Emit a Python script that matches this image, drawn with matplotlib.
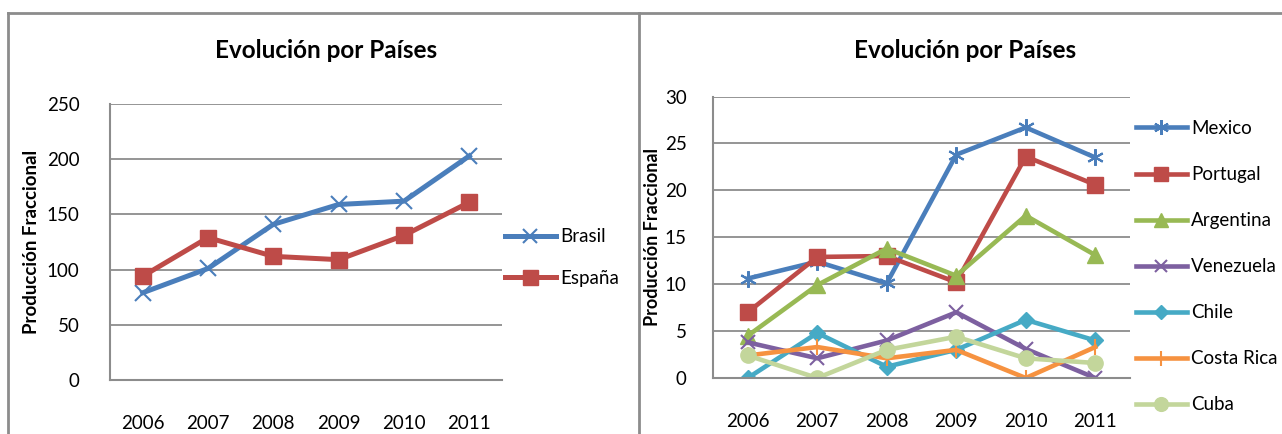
import matplotlib
matplotlib.use("Agg")
import matplotlib.pyplot as plt
from matplotlib.lines import Line2D

plt.rcParams['font.family'] = ['Lato', 'DejaVu Sans']

years = ["2006", "2007", "2008", "2009", "2010", "2011"]

# Left chart
brasil = [79, 101, 141, 159, 162, 203]
espana = [94, 129, 112, 109, 131, 161]

# Right chart
mexico = [10.6, 12.4, 10.1, 23.8, 26.7, 23.5]
portugal = [7.0, 12.9, 13.0, 10.2, 23.6, 20.6]
argentina = [4.5, 9.9, 13.8, 10.9, 17.3, 13.1]
venezuela = [3.8, 2.1, 4.0, 7.0, 3.1, 0.0]
chile = [0.0, 4.8, 1.2, 3.0, 6.2, 4.0]
costa_rica = [2.4, 3.3, 2.1, 3.0, 0.0, 3.3]
cuba = [2.4, 0.0, 3.0, 4.4, 2.1, 1.6]

W, H = 1282, 434
fig = plt.figure(figsize=(W / 100, H / 100), dpi=100)
fig.patch.set_facecolor('white')

BORDER = '#8c8c8c'
GRID = '#8c8c8c'

def fx(px):
    return px / W

def fy(py):
    return 1 - py / H

# chart borders
fig.add_artist(Line2D([fx(8), fx(8)], [fy(13), 0], color=BORDER, lw=2))
fig.add_artist(Line2D([fx(8), 1], [fy(13), fy(13)], color=BORDER, lw=2))
fig.add_artist(Line2D([fx(639), fx(639)], [fy(13), 0], color=BORDER, lw=2))


def style_axes(ax, yticks, ymax, ypad):
    x = range(len(years))
    ax.set_xlim(-0.5, len(years) - 0.5)
    ax.set_ylim(0, ymax)
    ax.set_yticks(yticks)
    ax.set_xticks(list(x))
    ax.set_xticklabels(years)
    ax.yaxis.grid(True, color=GRID, lw=1.3)
    ax.set_axisbelow(True)
    for s in ['top', 'right']:
        ax.spines[s].set_visible(False)
    for s in ['left', 'bottom']:
        ax.spines[s].set_color(GRID)
        ax.spines[s].set_linewidth(1.5)
    ax.tick_params(axis='both', length=0, labelsize=13.5, colors='black')
    ax.tick_params(axis='y', pad=ypad)
    ax.tick_params(axis='x', pad=25)


# ---------- Left chart ----------
axL = fig.add_axes([fx(110), fy(380), fx(502) - fx(110), (380 - 104) / H])
xs = list(range(len(years)))
axL.plot(xs, brasil, color='#4A7EBB', lw=3.6, marker='x', ms=11, mew=1.5, label='Brasil')
axL.plot(xs, espana, color='#BE4B48', lw=3.6, marker='s', ms=12, label='España')
style_axes(axL, [0, 50, 100, 150, 200, 250], 250, 22)
axL.legend(loc='center left', bbox_to_anchor=((513 - 110) / 392 - 0.02, (380 - 257.5) / 276),
           frameon=False, fontsize=13.5, handlelength=2.7, handletextpad=0.25,
           labelspacing=1.3, borderpad=0, borderaxespad=0, markerscale=0.9)
fig.text(fx(326), fy(50), 'Evolución por Países', ha='center', va='center',
         fontsize=17.5, fontweight='bold')
fig.text(fx(32), fy(242), 'Producción Fraccional', ha='center', va='center',
         rotation=90, fontsize=13.5, fontweight='bold')

# ---------- Right chart ----------
axR = fig.add_axes([fx(713), fy(378), fx(1130) - fx(713), (378 - 96.5) / H])
series = [
    ('Mexico', mexico, '#4A7EBB', (6, 2, 0), 12, 1.5),
    ('Portugal', portugal, '#BE4B48', 's', 11, 1),
    ('Argentina', argentina, '#98B954', '^', 11, 1),
    ('Venezuela', venezuela, '#7D60A0', 'x', 10, 1.5),
    ('Chile', chile, '#46AAC5', 'D', 8, 1),
    ('Costa Rica', costa_rica, '#F69240', '|', 12, 1.5),
    ('Cuba', cuba, '#C3D69B', 'o', 11, 1),
]
for name, vals, col, mk, ms, mew in series:
    axR.plot(xs, vals, color=col, lw=3.3, marker=mk, ms=ms, mew=mew, label=name)
style_axes(axR, [0, 5, 10, 15, 20, 25, 30], 30, 19)
axR.legend(loc='upper left', bbox_to_anchor=((1136 - 713) / 417, (378 - 120) / 281.5),
           frameon=False, fontsize=13.5, handlelength=2.7, handletextpad=0.25,
           labelspacing=1.55, borderpad=0, borderaxespad=0, markerscale=0.9)
fig.text(fx(965), fy(50), 'Evolución por Países', ha='center', va='center',
         fontsize=17.5, fontweight='bold')
fig.text(fx(653), fy(237), 'Producción Fraccional', ha='center', va='center',
         rotation=90, fontsize=13, fontweight='bold')

fig.savefig('out.png', dpi=100, facecolor='white')
